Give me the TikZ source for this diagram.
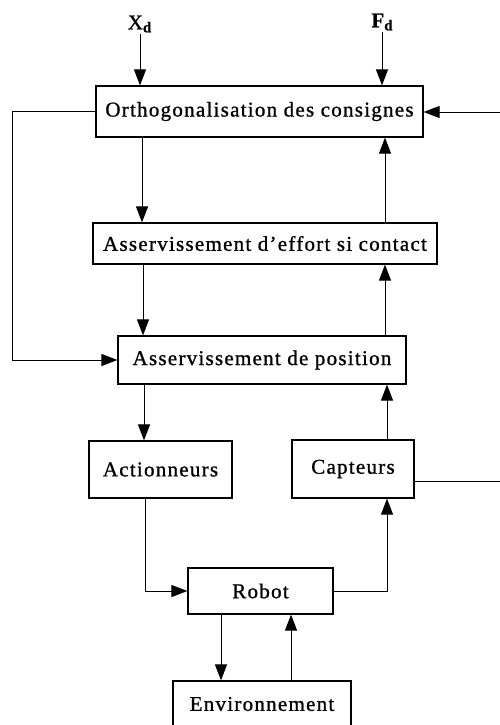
\documentclass[tikz,border=0pt]{standalone}
\usepackage{fontspec}
\setmainfont{Liberation Serif}[LetterSpace=6,FakeBold=1]
\usetikzlibrary{arrows.meta}
\begin{document}
\begin{tikzpicture}[x=1pt,y=-1pt,
  box/.style={draw,line width=1.2pt,inner sep=0pt,font=\fontsize{21}{24}\selectfont},
  lab/.style={inner sep=1pt,font=\fontsize{21}{24}\selectfont},
  arr/.style={line width=1pt,-{Triangle[length=16pt,width=12pt]}},
  ln/.style={line width=1pt}]
\useasboundingbox (0,0) rectangle (500,725);
\node[box,minimum width=327pt,minimum height=51pt] (ortho) at (259.5,111.5) {Orthogonalisation des consignes};
\node[box,minimum width=344pt,minimum height=41pt] (effort) at (265,243.5) {Asservissement d’effort si contact};
\node[box,minimum width=288pt,minimum height=48pt] (pos) at (262,360) {Asservissement de position};
\node[box,minimum width=143pt,minimum height=57pt] (act) at (160.5,469.5) {Actionneurs};
\node[box,minimum width=122pt,minimum height=58pt] (capt) at (353,469) {Capteurs};
\node[box,minimum width=145pt,minimum height=46pt] (robot) at (260.5,591) {Robot};
\node[box,minimum width=178pt,minimum height=46pt] (env) at (262,704) {Environnement};
\node[lab] (xd) at (140,24) {X{\fontsize{15}{15}\selectfont\raisebox{-3pt}{\textbf{d}}}};
\node[lab] (fd) at (382,22) {\textbf{F{\fontsize{15}{15}\selectfont\raisebox{-3pt}{d}}}};
\coordinate (k1) at (142,0);
\coordinate (k2) at (143,0);
\coordinate (k3) at (144,0);
\coordinate (k4) at (145,0);
\coordinate (r1) at (385,0);
\coordinate (r2) at (387,0);
\coordinate (kl) at (12,0);
\coordinate (e1) at (221,0);
\coordinate (e2) at (291,0);
\coordinate (inR) at (500,112);
\coordinate (outR) at (500,481);
\draw[arr] (xd.south) -- (ortho.north -| xd);
\draw[arr] (fd.south) -- (ortho.north -| fd);
\draw[arr] (inR) -- (inR -| ortho.east);
\draw[arr] (ortho.west) -- (kl |- ortho.west) |- (pos.west);
\draw[arr] (ortho.south -| k1) -- (effort.north -| k1);
\draw[arr] (effort.north -| r1) -- (ortho.south -| r1);
\draw[arr] (effort.south -| k2) -- (pos.north -| k2);
\draw[arr] (pos.north -| r1) -- (effort.south -| r1);
\draw[arr] (pos.south -| k3) -- (act.north -| k3);
\draw[arr] (capt.north -| r2) -- (pos.south -| r2);
\draw[ln] (outR -| capt.east) -- (outR);
\draw[arr] (act.south -| k4) |- (robot.west);
\draw[arr] (robot.east) -| (capt.south -| r2);
\draw[arr] (robot.south -| e1) -- (env.north -| e1);
\draw[arr] (env.north -| e2) -- (robot.south -| e2);
\end{tikzpicture}
\end{document}
